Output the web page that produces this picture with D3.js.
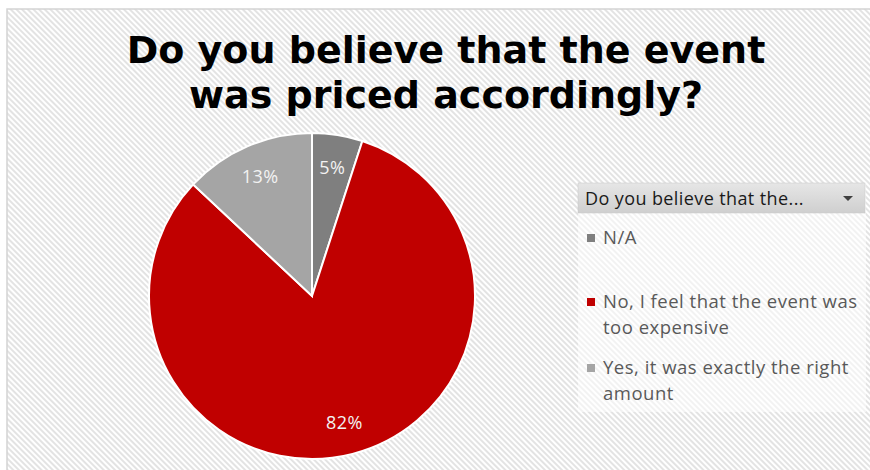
<html>
	<head>
		<script src="https://d3js.org/d3.v7.min.js"></script>
		<style>
			body { margin: 0; background: #fff; }
		</style>
	</head>
	<body>
		<svg width="870" height="470"></svg>
		<script>

		var categories = ["N/A", "No, I feel that the event was too expensive", "Yes, it was exactly the right amount"];
		var values = [5, 82, 13];
		var colors = ["#7f7f7f", "#c00000", "#a5a5a5"];
		var legendLines = [["N/A"], ["No, I feel that the event was", "too expensive"], ["Yes, it was exactly the right", "amount"]];
		var titleLines = ["Do you believe that the event", "was priced accordingly?"];

		var svg = d3.select("svg");

		// hatched chart background
		var defs = svg.append("defs");
		var pat = defs.append("pattern")
			.attr("id", "hatch")
			.attr("patternUnits", "userSpaceOnUse")
			.attr("width", 4).attr("height", 4)
			.attr("patternTransform", "rotate(-45)");
		pat.append("rect").attr("width", 4).attr("height", 4).attr("fill", "#ffffff");
		pat.append("rect").attr("width", 2).attr("height", 4).attr("fill", "#e3e3e3");

		var grad = defs.append("linearGradient").attr("id", "hdr").attr("x1", 0).attr("y1", 0).attr("x2", 0).attr("y2", 1);
		grad.append("stop").attr("offset", "0%").attr("stop-color", "#e6e6e6");
		grad.append("stop").attr("offset", "100%").attr("stop-color", "#cfcfcf");

		svg.append("rect")
			.attr("x", 7).attr("y", 9)
			.attr("width", 880).attr("height", 480)
			.attr("fill", "url(#hatch)")
			.attr("stroke", "#d4d4d4").attr("stroke-width", 1.5);

		// title
		svg.append("text")
			.attr("x", 446).attr("y", 63)
			.attr("text-anchor", "middle")
			.attr("font-family", "DejaVu Sans")
			.attr("font-weight", "bold")
			.attr("font-size", 38)
			.attr("fill", "#000")
			.selectAll("tspan")
			.data(titleLines)
			.enter().append("tspan")
			.attr("x", 446)
			.attr("dy", function(d, i) { return i ? 45 : 0; })
			.text(function(d) { return d; });

		// pie
		var radius = 163;
		var g = svg.append("g").attr("transform", "translate(312,296)");
		var pie = d3.pie().sort(null).value(function(d) { return d; });
		var arc = d3.arc().innerRadius(0).outerRadius(radius);
		var labelArc = d3.arc().innerRadius(radius * 0.8).outerRadius(radius * 0.8);
		var arcs = pie(values);

		g.selectAll("path")
			.data(arcs)
			.enter().append("path")
			.attr("d", arc)
			.attr("fill", function(d, i) { return colors[i]; })
			.attr("stroke", "#ffffff")
			.attr("stroke-width", 2);

		g.selectAll("text")
			.data(arcs)
			.enter().append("text")
			.attr("transform", function(d) { return "translate(" + labelArc.centroid(d) + ")"; })
			.attr("text-anchor", "middle")
			.attr("dy", "0.35em")
			.attr("font-family", "Open Sans")
			.attr("font-size", 18)
			.attr("letter-spacing", 0.5)
			.attr("fill", "#f2f2f2")
			.text(function(d) { return d.data + "%"; });

		// legend
		var lg = svg.append("g").attr("transform", "translate(578,183)");
		lg.append("rect")
			.attr("width", 288).attr("height", 229)
			.attr("fill", "#ffffff").attr("fill-opacity", 0.55);
		lg.append("rect")
			.attr("width", 287).attr("height", 30)
			.attr("fill", "url(#hdr)")
			.attr("stroke", "#c8c8c8").attr("stroke-width", 0.5);
		lg.append("text")
			.attr("x", 7).attr("y", 22)
			.attr("font-family", "Open Sans")
			.attr("font-size", 18)
			.attr("letter-spacing", 0.4)
			.attr("fill", "#1a1a1a")
			.text("Do you believe that the...");
		lg.append("path")
			.attr("d", "M265,13 L275,13 L270,18 Z")
			.attr("fill", "#404040");

		var itemY = [61, 125, 191];
		var items = lg.selectAll("g.item")
			.data(categories)
			.enter().append("g")
			.attr("class", "item")
			.attr("transform", function(d, i) { return "translate(0," + itemY[i] + ")"; });
		items.append("rect")
			.attr("x", 9).attr("y", -10)
			.attr("width", 8).attr("height", 8)
			.attr("fill", function(d, i) { return colors[i]; });
		items.append("text")
			.attr("font-family", "Open Sans")
			.attr("font-size", 18.5)
			.attr("letter-spacing", 0.5)
			.attr("fill", "#595959")
			.selectAll("tspan")
			.data(function(d, i) { return legendLines[i]; })
			.enter().append("tspan")
			.attr("x", 25)
			.attr("dy", function(d, i) { return i ? 25.5 : 0; })
			.text(function(d) { return d; });
		</script>
	</body>
</html>
